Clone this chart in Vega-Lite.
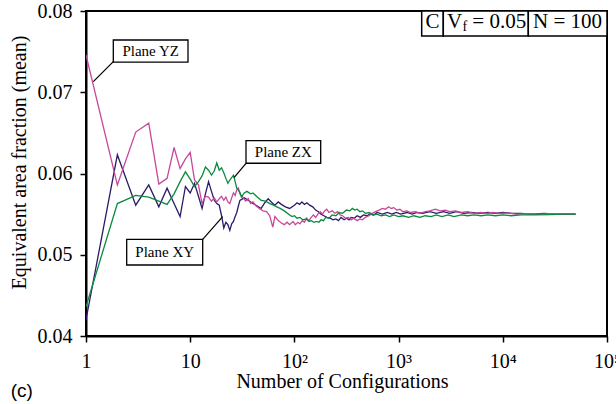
{
  "$schema": "https://vega.github.io/schema/vega-lite/v6.json",
  "width": 521,
  "height": 325,
  "autosize": "none",
  "padding": {"left": 86, "top": 11, "right": 9, "bottom": 68},
  "background": "white",
  "config": {
    "view": {"stroke": "black", "strokeWidth": 2},
    "font": "Liberation Serif"
  },
  "datasets": {
    "curves": [
      {"plane": "XY", "n": 1, "v": 0.0420},
      {"plane": "XY", "n": 2, "v": 0.0623},
      {"plane": "XY", "n": 3, "v": 0.0561},
      {"plane": "XY", "n": 4, "v": 0.0586},
      {"plane": "XY", "n": 5, "v": 0.0559},
      {"plane": "XY", "n": 6, "v": 0.0582},
      {"plane": "XY", "n": 7, "v": 0.0563},
      {"plane": "XY", "n": 8, "v": 0.0547},
      {"plane": "XY", "n": 9, "v": 0.0584},
      {"plane": "XY", "n": 10, "v": 0.0576},
      {"plane": "XY", "n": 11, "v": 0.0588},
      {"plane": "XY", "n": 12, "v": 0.0572},
      {"plane": "XY", "n": 13, "v": 0.0557},
      {"plane": "XY", "n": 14, "v": 0.0575},
      {"plane": "XY", "n": 15, "v": 0.0590},
      {"plane": "XY", "n": 16, "v": 0.0578},
      {"plane": "XY", "n": 17, "v": 0.0567},
      {"plane": "XY", "n": 18, "v": 0.0563},
      {"plane": "XY", "n": 19, "v": 0.0561},
      {"plane": "XY", "n": 20, "v": 0.0548},
      {"plane": "XY", "n": 21, "v": 0.0533},
      {"plane": "XY", "n": 22, "v": 0.0540},
      {"plane": "XY", "n": 23, "v": 0.0537},
      {"plane": "XY", "n": 24, "v": 0.0530},
      {"plane": "XY", "n": 25, "v": 0.0538},
      {"plane": "XY", "n": 26, "v": 0.0541},
      {"plane": "XY", "n": 27, "v": 0.0547},
      {"plane": "XY", "n": 28, "v": 0.0552},
      {"plane": "XY", "n": 29, "v": 0.0560},
      {"plane": "XY", "n": 30, "v": 0.0567},
      {"plane": "XY", "n": 33, "v": 0.0570},
      {"plane": "XY", "n": 36, "v": 0.0567},
      {"plane": "XY", "n": 40, "v": 0.0563},
      {"plane": "XY", "n": 44, "v": 0.0560},
      {"plane": "XY", "n": 48, "v": 0.0557},
      {"plane": "XY", "n": 52, "v": 0.0564},
      {"plane": "XY", "n": 56, "v": 0.0569},
      {"plane": "XY", "n": 60, "v": 0.0565},
      {"plane": "XY", "n": 65, "v": 0.0561},
      {"plane": "XY", "n": 70, "v": 0.0565},
      {"plane": "XY", "n": 75, "v": 0.0562},
      {"plane": "XY", "n": 82, "v": 0.0559},
      {"plane": "XY", "n": 90, "v": 0.0557},
      {"plane": "XY", "n": 100, "v": 0.0561},
      {"plane": "XY", "n": 106, "v": 0.0564},
      {"plane": "XY", "n": 112, "v": 0.0562},
      {"plane": "XY", "n": 118, "v": 0.0565},
      {"plane": "XY", "n": 125, "v": 0.0562},
      {"plane": "XY", "n": 132, "v": 0.0564},
      {"plane": "XY", "n": 140, "v": 0.0561},
      {"plane": "XY", "n": 150, "v": 0.0559},
      {"plane": "XY", "n": 160, "v": 0.0555},
      {"plane": "XY", "n": 170, "v": 0.0553},
      {"plane": "XY", "n": 180, "v": 0.0550},
      {"plane": "XY", "n": 192, "v": 0.0548},
      {"plane": "XY", "n": 205, "v": 0.0546},
      {"plane": "XY", "n": 220, "v": 0.0545},
      {"plane": "XY", "n": 235, "v": 0.0543},
      {"plane": "XY", "n": 250, "v": 0.0544},
      {"plane": "XY", "n": 265, "v": 0.0542},
      {"plane": "XY", "n": 280, "v": 0.0546},
      {"plane": "XY", "n": 300, "v": 0.0543},
      {"plane": "XY", "n": 316, "v": 0.0545},
      {"plane": "XY", "n": 335, "v": 0.0543},
      {"plane": "XY", "n": 350, "v": 0.0546},
      {"plane": "XY", "n": 375, "v": 0.0545},
      {"plane": "XY", "n": 400, "v": 0.0548},
      {"plane": "XY", "n": 430, "v": 0.0546},
      {"plane": "XY", "n": 460, "v": 0.0549},
      {"plane": "XY", "n": 500, "v": 0.0548},
      {"plane": "XY", "n": 540, "v": 0.0551},
      {"plane": "XY", "n": 580, "v": 0.0549},
      {"plane": "XY", "n": 620, "v": 0.0552},
      {"plane": "XY", "n": 700, "v": 0.0550},
      {"plane": "XY", "n": 780, "v": 0.0552},
      {"plane": "XY", "n": 860, "v": 0.0550},
      {"plane": "XY", "n": 950, "v": 0.0552},
      {"plane": "XY", "n": 1050, "v": 0.0550},
      {"plane": "XY", "n": 1200, "v": 0.0552},
      {"plane": "XY", "n": 1350, "v": 0.0550},
      {"plane": "XY", "n": 1500, "v": 0.0552},
      {"plane": "XY", "n": 1700, "v": 0.0551},
      {"plane": "XY", "n": 2000, "v": 0.0553},
      {"plane": "XY", "n": 2300, "v": 0.0551},
      {"plane": "XY", "n": 2700, "v": 0.0553},
      {"plane": "XY", "n": 3100, "v": 0.0551},
      {"plane": "XY", "n": 3600, "v": 0.0553},
      {"plane": "XY", "n": 4200, "v": 0.0551},
      {"plane": "XY", "n": 5000, "v": 0.0552},
      {"plane": "XY", "n": 6000, "v": 0.0551},
      {"plane": "XY", "n": 7200, "v": 0.0552},
      {"plane": "XY", "n": 8500, "v": 0.0551},
      {"plane": "XY", "n": 10000, "v": 0.0552},
      {"plane": "XY", "n": 12000, "v": 0.0551},
      {"plane": "XY", "n": 15000, "v": 0.0551},
      {"plane": "XY", "n": 19000, "v": 0.0550},
      {"plane": "XY", "n": 25000, "v": 0.0551},
      {"plane": "XY", "n": 32000, "v": 0.0550},
      {"plane": "XY", "n": 40000, "v": 0.0550},
      {"plane": "XY", "n": 50000, "v": 0.0550},
      {"plane": "YZ", "n": 1, "v": 0.0746},
      {"plane": "YZ", "n": 2, "v": 0.0586},
      {"plane": "YZ", "n": 3, "v": 0.0651},
      {"plane": "YZ", "n": 4, "v": 0.0662},
      {"plane": "YZ", "n": 5, "v": 0.0587},
      {"plane": "YZ", "n": 6, "v": 0.0594},
      {"plane": "YZ", "n": 7, "v": 0.0632},
      {"plane": "YZ", "n": 8, "v": 0.0606},
      {"plane": "YZ", "n": 9, "v": 0.0618},
      {"plane": "YZ", "n": 10, "v": 0.0626},
      {"plane": "YZ", "n": 11, "v": 0.0592},
      {"plane": "YZ", "n": 12, "v": 0.0586},
      {"plane": "YZ", "n": 13, "v": 0.0563},
      {"plane": "YZ", "n": 14, "v": 0.0572},
      {"plane": "YZ", "n": 15, "v": 0.0571},
      {"plane": "YZ", "n": 16, "v": 0.0566},
      {"plane": "YZ", "n": 17, "v": 0.0570},
      {"plane": "YZ", "n": 18, "v": 0.0565},
      {"plane": "YZ", "n": 19, "v": 0.0569},
      {"plane": "YZ", "n": 20, "v": 0.0572},
      {"plane": "YZ", "n": 21, "v": 0.0567},
      {"plane": "YZ", "n": 22, "v": 0.0571},
      {"plane": "YZ", "n": 23, "v": 0.0565},
      {"plane": "YZ", "n": 24, "v": 0.0563},
      {"plane": "YZ", "n": 25, "v": 0.0570},
      {"plane": "YZ", "n": 26, "v": 0.0576},
      {"plane": "YZ", "n": 27, "v": 0.0573},
      {"plane": "YZ", "n": 28, "v": 0.0580},
      {"plane": "YZ", "n": 29, "v": 0.0582},
      {"plane": "YZ", "n": 30, "v": 0.0575},
      {"plane": "YZ", "n": 32, "v": 0.0571},
      {"plane": "YZ", "n": 34, "v": 0.0566},
      {"plane": "YZ", "n": 36, "v": 0.0569},
      {"plane": "YZ", "n": 38, "v": 0.0563},
      {"plane": "YZ", "n": 40, "v": 0.0565},
      {"plane": "YZ", "n": 43, "v": 0.0560},
      {"plane": "YZ", "n": 46, "v": 0.0557},
      {"plane": "YZ", "n": 50, "v": 0.0554},
      {"plane": "YZ", "n": 54, "v": 0.0553},
      {"plane": "YZ", "n": 58, "v": 0.0548},
      {"plane": "YZ", "n": 62, "v": 0.0534},
      {"plane": "YZ", "n": 65, "v": 0.0547},
      {"plane": "YZ", "n": 70, "v": 0.0542},
      {"plane": "YZ", "n": 75, "v": 0.0539},
      {"plane": "YZ", "n": 80, "v": 0.0537},
      {"plane": "YZ", "n": 85, "v": 0.0540},
      {"plane": "YZ", "n": 90, "v": 0.0537},
      {"plane": "YZ", "n": 97, "v": 0.0541},
      {"plane": "YZ", "n": 102, "v": 0.0537},
      {"plane": "YZ", "n": 108, "v": 0.0540},
      {"plane": "YZ", "n": 113, "v": 0.0538},
      {"plane": "YZ", "n": 119, "v": 0.0542},
      {"plane": "YZ", "n": 125, "v": 0.0540},
      {"plane": "YZ", "n": 131, "v": 0.0545},
      {"plane": "YZ", "n": 138, "v": 0.0542},
      {"plane": "YZ", "n": 145, "v": 0.0546},
      {"plane": "YZ", "n": 152, "v": 0.0549},
      {"plane": "YZ", "n": 160, "v": 0.0546},
      {"plane": "YZ", "n": 168, "v": 0.0550},
      {"plane": "YZ", "n": 177, "v": 0.0553},
      {"plane": "YZ", "n": 186, "v": 0.0550},
      {"plane": "YZ", "n": 195, "v": 0.0554},
      {"plane": "YZ", "n": 204, "v": 0.0556},
      {"plane": "YZ", "n": 215, "v": 0.0552},
      {"plane": "YZ", "n": 230, "v": 0.0554},
      {"plane": "YZ", "n": 245, "v": 0.0551},
      {"plane": "YZ", "n": 260, "v": 0.0553},
      {"plane": "YZ", "n": 275, "v": 0.0549},
      {"plane": "YZ", "n": 290, "v": 0.0548},
      {"plane": "YZ", "n": 310, "v": 0.0545},
      {"plane": "YZ", "n": 330, "v": 0.0546},
      {"plane": "YZ", "n": 350, "v": 0.0543},
      {"plane": "YZ", "n": 370, "v": 0.0545},
      {"plane": "YZ", "n": 400, "v": 0.0542},
      {"plane": "YZ", "n": 425, "v": 0.0544},
      {"plane": "YZ", "n": 450, "v": 0.0543},
      {"plane": "YZ", "n": 480, "v": 0.0546},
      {"plane": "YZ", "n": 520, "v": 0.0548},
      {"plane": "YZ", "n": 560, "v": 0.0551},
      {"plane": "YZ", "n": 600, "v": 0.0553},
      {"plane": "YZ", "n": 650, "v": 0.0555},
      {"plane": "YZ", "n": 700, "v": 0.0557},
      {"plane": "YZ", "n": 750, "v": 0.0556},
      {"plane": "YZ", "n": 800, "v": 0.0559},
      {"plane": "YZ", "n": 850, "v": 0.0557},
      {"plane": "YZ", "n": 900, "v": 0.0558},
      {"plane": "YZ", "n": 960, "v": 0.0555},
      {"plane": "YZ", "n": 1030, "v": 0.0556},
      {"plane": "YZ", "n": 1100, "v": 0.0553},
      {"plane": "YZ", "n": 1200, "v": 0.0554},
      {"plane": "YZ", "n": 1300, "v": 0.0552},
      {"plane": "YZ", "n": 1450, "v": 0.0553},
      {"plane": "YZ", "n": 1600, "v": 0.0551},
      {"plane": "YZ", "n": 1800, "v": 0.0553},
      {"plane": "YZ", "n": 2000, "v": 0.0554},
      {"plane": "YZ", "n": 2250, "v": 0.0556},
      {"plane": "YZ", "n": 2500, "v": 0.0554},
      {"plane": "YZ", "n": 2800, "v": 0.0555},
      {"plane": "YZ", "n": 3100, "v": 0.0553},
      {"plane": "YZ", "n": 3500, "v": 0.0554},
      {"plane": "YZ", "n": 4000, "v": 0.0552},
      {"plane": "YZ", "n": 4600, "v": 0.0553},
      {"plane": "YZ", "n": 5300, "v": 0.0551},
      {"plane": "YZ", "n": 6100, "v": 0.0552},
      {"plane": "YZ", "n": 7000, "v": 0.0551},
      {"plane": "YZ", "n": 8000, "v": 0.0552},
      {"plane": "YZ", "n": 9500, "v": 0.0551},
      {"plane": "YZ", "n": 11000, "v": 0.05515},
      {"plane": "YZ", "n": 13500, "v": 0.0550},
      {"plane": "YZ", "n": 17000, "v": 0.05505},
      {"plane": "YZ", "n": 22000, "v": 0.0550},
      {"plane": "YZ", "n": 28000, "v": 0.05505},
      {"plane": "YZ", "n": 36000, "v": 0.0550},
      {"plane": "YZ", "n": 50000, "v": 0.0550},
      {"plane": "ZX", "n": 1, "v": 0.0436},
      {"plane": "ZX", "n": 2, "v": 0.0563},
      {"plane": "ZX", "n": 3, "v": 0.0573},
      {"plane": "ZX", "n": 4, "v": 0.0571},
      {"plane": "ZX", "n": 5, "v": 0.0566},
      {"plane": "ZX", "n": 6, "v": 0.0562},
      {"plane": "ZX", "n": 7, "v": 0.0575},
      {"plane": "ZX", "n": 8, "v": 0.0590},
      {"plane": "ZX", "n": 9, "v": 0.0602},
      {"plane": "ZX", "n": 10, "v": 0.0593},
      {"plane": "ZX", "n": 11, "v": 0.0584},
      {"plane": "ZX", "n": 12, "v": 0.0590},
      {"plane": "ZX", "n": 13, "v": 0.0597},
      {"plane": "ZX", "n": 14, "v": 0.0608},
      {"plane": "ZX", "n": 15, "v": 0.0604},
      {"plane": "ZX", "n": 16, "v": 0.0598},
      {"plane": "ZX", "n": 17, "v": 0.0603},
      {"plane": "ZX", "n": 18, "v": 0.0613},
      {"plane": "ZX", "n": 19, "v": 0.0604},
      {"plane": "ZX", "n": 20, "v": 0.0607},
      {"plane": "ZX", "n": 21, "v": 0.0601},
      {"plane": "ZX", "n": 22, "v": 0.0594},
      {"plane": "ZX", "n": 23, "v": 0.0588},
      {"plane": "ZX", "n": 24, "v": 0.0592},
      {"plane": "ZX", "n": 25, "v": 0.0595},
      {"plane": "ZX", "n": 26, "v": 0.0598},
      {"plane": "ZX", "n": 27, "v": 0.0590},
      {"plane": "ZX", "n": 28, "v": 0.0582},
      {"plane": "ZX", "n": 30, "v": 0.0577},
      {"plane": "ZX", "n": 31, "v": 0.0571},
      {"plane": "ZX", "n": 33, "v": 0.0576},
      {"plane": "ZX", "n": 35, "v": 0.0578},
      {"plane": "ZX", "n": 38, "v": 0.0575},
      {"plane": "ZX", "n": 40, "v": 0.0576},
      {"plane": "ZX", "n": 44, "v": 0.0571},
      {"plane": "ZX", "n": 48, "v": 0.0567},
      {"plane": "ZX", "n": 53, "v": 0.0566},
      {"plane": "ZX", "n": 58, "v": 0.0563},
      {"plane": "ZX", "n": 63, "v": 0.0561},
      {"plane": "ZX", "n": 68, "v": 0.0559},
      {"plane": "ZX", "n": 73, "v": 0.0557},
      {"plane": "ZX", "n": 80, "v": 0.0554},
      {"plane": "ZX", "n": 90, "v": 0.0549},
      {"plane": "ZX", "n": 95, "v": 0.0547},
      {"plane": "ZX", "n": 100, "v": 0.0548},
      {"plane": "ZX", "n": 106, "v": 0.0545},
      {"plane": "ZX", "n": 113, "v": 0.0546},
      {"plane": "ZX", "n": 120, "v": 0.0543},
      {"plane": "ZX", "n": 130, "v": 0.0544},
      {"plane": "ZX", "n": 138, "v": 0.0541},
      {"plane": "ZX", "n": 145, "v": 0.0542},
      {"plane": "ZX", "n": 154, "v": 0.0540},
      {"plane": "ZX", "n": 163, "v": 0.0541},
      {"plane": "ZX", "n": 172, "v": 0.0540},
      {"plane": "ZX", "n": 180, "v": 0.0543},
      {"plane": "ZX", "n": 190, "v": 0.0542},
      {"plane": "ZX", "n": 200, "v": 0.0546},
      {"plane": "ZX", "n": 215, "v": 0.0545},
      {"plane": "ZX", "n": 230, "v": 0.0549},
      {"plane": "ZX", "n": 250, "v": 0.0548},
      {"plane": "ZX", "n": 270, "v": 0.0552},
      {"plane": "ZX", "n": 290, "v": 0.0551},
      {"plane": "ZX", "n": 316, "v": 0.0555},
      {"plane": "ZX", "n": 340, "v": 0.0554},
      {"plane": "ZX", "n": 360, "v": 0.0557},
      {"plane": "ZX", "n": 380, "v": 0.0555},
      {"plane": "ZX", "n": 400, "v": 0.0556},
      {"plane": "ZX", "n": 425, "v": 0.0553},
      {"plane": "ZX", "n": 450, "v": 0.0554},
      {"plane": "ZX", "n": 480, "v": 0.0551},
      {"plane": "ZX", "n": 520, "v": 0.0552},
      {"plane": "ZX", "n": 560, "v": 0.0549},
      {"plane": "ZX", "n": 620, "v": 0.0550},
      {"plane": "ZX", "n": 680, "v": 0.0548},
      {"plane": "ZX", "n": 750, "v": 0.0549},
      {"plane": "ZX", "n": 820, "v": 0.0547},
      {"plane": "ZX", "n": 900, "v": 0.0549},
      {"plane": "ZX", "n": 1000, "v": 0.0547},
      {"plane": "ZX", "n": 1100, "v": 0.0548},
      {"plane": "ZX", "n": 1250, "v": 0.0546},
      {"plane": "ZX", "n": 1400, "v": 0.0548},
      {"plane": "ZX", "n": 1600, "v": 0.0546},
      {"plane": "ZX", "n": 1800, "v": 0.0548},
      {"plane": "ZX", "n": 2050, "v": 0.0547},
      {"plane": "ZX", "n": 2300, "v": 0.0549},
      {"plane": "ZX", "n": 2600, "v": 0.0547},
      {"plane": "ZX", "n": 3000, "v": 0.0549},
      {"plane": "ZX", "n": 3400, "v": 0.0547},
      {"plane": "ZX", "n": 4000, "v": 0.0549},
      {"plane": "ZX", "n": 4600, "v": 0.0548},
      {"plane": "ZX", "n": 5300, "v": 0.0549},
      {"plane": "ZX", "n": 6200, "v": 0.0548},
      {"plane": "ZX", "n": 7200, "v": 0.0549},
      {"plane": "ZX", "n": 8500, "v": 0.0548},
      {"plane": "ZX", "n": 10000, "v": 0.0549},
      {"plane": "ZX", "n": 12000, "v": 0.0548},
      {"plane": "ZX", "n": 15000, "v": 0.0549},
      {"plane": "ZX", "n": 20000, "v": 0.0549},
      {"plane": "ZX", "n": 28000, "v": 0.05495},
      {"plane": "ZX", "n": 38000, "v": 0.0550},
      {"plane": "ZX", "n": 50000, "v": 0.0550}
    ],
    "labels": [
      {"label": "Plane YZ", "n": 1.828, "n2": 9.526, "v": 0.07643, "v2": 0.07372, "nm": 4.173, "vm": 0.07508},
      {"label": "Plane ZX", "n": 34.32, "n2": 178.8, "v": 0.06404, "v2": 0.06126, "nm": 78.3, "vm": 0.06265},
      {"label": "Plane XY", "n": 2.458, "n2": 13.18, "v": 0.0519, "v2": 0.04874, "nm": 5.69, "vm": 0.05032}
    ],
    "leaders": [
      {"n": 1.828, "v": 0.07376, "n2": 1.175, "v2": 0.0713},
      {"n": 34.32, "v": 0.06126, "n2": 26.33, "v2": 0.05948},
      {"n": 13.18, "v": 0.0519, "n2": 20.51, "v2": 0.05468}
    ],
    "cells": [
      {"n": 1666, "n2": 2685, "v": 0.08, "v2": 0.07692},
      {"n": 2685, "n2": 17570, "v": 0.08, "v2": 0.07692},
      {"n": 17570, "n2": 100000, "v": 0.08, "v2": 0.07692}
    ]
  },
  "encoding": {
    "x": {
      "field": "n",
      "type": "quantitative",
      "scale": {"type": "log", "domain": [1, 100000], "nice": false},
      "axis": {
        "title": "Number of Configurations",
        "values": [1, 10, 100, 1000, 10000, 100000],
        "labelExpr": "datum.value == 1 ? '1' : datum.value == 10 ? '10' : datum.value == 100 ? '10²' : datum.value == 1000 ? '10³' : datum.value == 10000 ? '10⁴' : '10⁵'",
        "grid": false,
        "labelFlush": false,
        "labelOverlap": false,
        "labelFont": "Liberation Serif",
        "labelFontSize": 20,
        "labelColor": "black",
        "labelPadding": 9,
        "tickSize": 6,
        "tickColor": "black",
        "tickWidth": 1.5,
        "domainColor": "black",
        "domainWidth": 2,
        "titleFont": "Liberation Serif",
        "titleFontSize": 20,
        "titleFontWeight": "normal",
        "titleColor": "black",
        "titleX": 256,
        "titleY": 51,
        "titleAlign": "center",
        "titleBaseline": "alphabetic"
      }
    },
    "y": {
      "field": "v",
      "type": "quantitative",
      "scale": {"domain": [0.04, 0.08], "nice": false, "zero": false},
      "axis": {
        "title": "Equivalent area fraction (mean)",
        "values": [0.04, 0.05, 0.06, 0.07, 0.08],
        "format": ".2f",
        "grid": false,
        "labelFont": "Liberation Serif",
        "labelFontSize": 20,
        "labelColor": "black",
        "labelPadding": 8,
        "tickSize": 6,
        "tickColor": "black",
        "tickWidth": 1.5,
        "domainColor": "black",
        "domainWidth": 2,
        "titleFont": "Liberation Serif",
        "titleFontSize": 20,
        "titleFontWeight": "normal",
        "titleColor": "black",
        "titleAngle": -90,
        "titleX": -61,
        "titleY": 151,
        "titleAlign": "center",
        "titleBaseline": "alphabetic"
      }
    }
  },
  "layer": [
    {
      "data": {"name": "curves"},
      "mark": {"type": "line", "strokeWidth": 1.3, "clip": true},
      "encoding": {
        "color": {
          "field": "plane",
          "type": "nominal",
          "scale": {"domain": ["XY", "YZ", "ZX"], "range": ["#2d1a6b", "#c8479b", "#0a8a3f"]},
          "legend": null
        }
      }
    },
    {
      "data": {"name": "leaders"},
      "mark": {"type": "rule", "color": "black", "strokeWidth": 1.2},
      "encoding": {
        "x2": {"field": "n2"},
        "y2": {"field": "v2"}
      }
    },
    {
      "data": {"name": "labels"},
      "mark": {"type": "rect", "fill": "white", "stroke": "black", "strokeWidth": 1.3},
      "encoding": {
        "x2": {"field": "n2"},
        "y2": {"field": "v2"}
      }
    },
    {
      "data": {"name": "labels"},
      "mark": {"type": "text", "font": "Liberation Serif", "fontSize": 15, "color": "black", "align": "center", "baseline": "middle"},
      "encoding": {
        "x": {"field": "nm", "type": "quantitative"},
        "y": {"field": "vm", "type": "quantitative"},
        "text": {"field": "label"}
      }
    },
    {
      "data": {"name": "cells"},
      "mark": {"type": "rect", "fill": "white", "stroke": "black", "strokeWidth": 1.5},
      "encoding": {
        "x2": {"field": "n2"},
        "y2": {"field": "v2"}
      }
    },
    {
      "data": {"values": [{"t": "C", "n": 2113, "v": 0.07787}, {"t": "N = 100", "n": 41760, "v": 0.07787}]},
      "mark": {"type": "text", "font": "Liberation Serif", "fontSize": 21, "color": "black", "align": "center", "baseline": "alphabetic"},
      "encoding": {"text": {"field": "t"}}
    },
    {
      "data": {"values": [{"t": "V", "n": 2911, "v": 0.07787}, {"t": "= 0.05", "n": 5101, "v": 0.07787}]},
      "mark": {"type": "text", "font": "Liberation Serif", "fontSize": 21, "color": "black", "align": "left", "baseline": "alphabetic"},
      "encoding": {"text": {"field": "t"}}
    },
    {
      "data": {"values": [{"t": "f", "n": 4100, "v": 0.07757}]},
      "mark": {"type": "text", "font": "Liberation Serif", "fontSize": 14, "color": "black", "align": "left", "baseline": "alphabetic"},
      "encoding": {"text": {"field": "t"}}
    },
    {
      "data": {"values": [{"t": "(c)", "n": 0.2423, "v": 0.03249}]},
      "mark": {"type": "text", "font": "Liberation Sans", "fontSize": 19, "color": "black", "align": "center", "baseline": "alphabetic"},
      "encoding": {"text": {"field": "t"}}
    }
  ]
}
